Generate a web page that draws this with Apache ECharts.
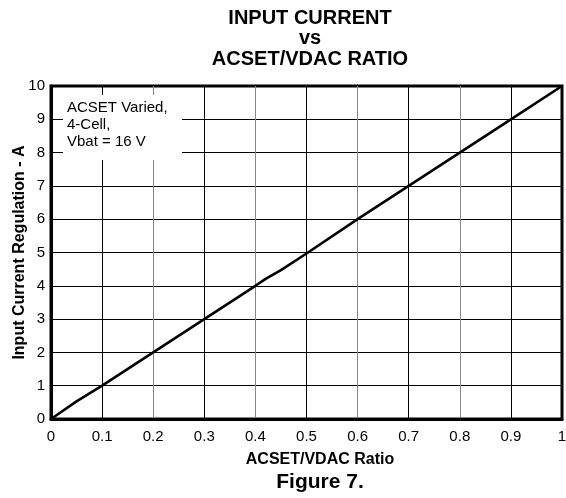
<!DOCTYPE html>
<html>
<head>
<meta charset="utf-8">
<script src="https://cdn.jsdelivr.net/npm/echarts@6/dist/echarts.min.js"></script>
<style>
html,body{margin:0;padding:0;background:#fff;}
#chart{width:566px;height:498px;}
</style>
</head>
<body>
<div id="chart"></div>
<script>
// Data
const ratio   = [0, 0.05, 0.1, 0.2, 0.3, 0.4, 0.42, 0.45, 0.5, 0.6, 0.7, 0.8, 0.9, 1.0];
const current = [0, 0.53, 1.0, 2.0, 3.0, 4.0, 4.21, 4.47, 4.97, 6.0, 7.0, 8.0, 9.0, 10.0];
const titleLines = ['INPUT CURRENT', 'vs', 'ACSET/VDAC RATIO'];
const noteLines = ['ACSET Varied,', '4-Cell,', 'Vbat = 16 V'];
const xName = 'ACSET/VDAC Ratio';
const yName = 'Input Current Regulation - A';
const figLabel = 'Figure 7.';

const FONT = '"Liberation Sans", Arial, Helvetica, sans-serif';
const chart = echarts.init(document.getElementById('chart'), null, {renderer: 'canvas'});
const xGridColors = ['#000','#000','#888','#000','#888','#000','#888','#000','#888','#000','#000'];

chart.setOption({
  animation: false,
  backgroundColor: '#fff',
  grid: {left: 51, right: 4, top: 86, bottom: 79, show: true, borderColor: '#000', borderWidth: 3,
    backgroundColor: 'transparent', containLabel: false, outerBoundsMode: 'none'},
  xAxis: {
    type: 'value', min: 0, max: 1, interval: 0.1,
    axisLine: {show: true, onZero: false, lineStyle: {color: '#000', width: 3}},
    axisTick: {show: false},
    splitLine: {show: true, lineStyle: {color: xGridColors, width: 1}},
    axisLabel: {color: '#000', fontSize: 15, fontFamily: FONT, margin: 10,
      formatter: v => (Math.round(v * 10) / 10).toString()},
    name: xName, nameLocation: 'middle', nameGap: 33, nameMoveOverlap: false,
    nameTextStyle: {color: '#000', fontSize: 16, fontWeight: 'bold', fontFamily: FONT, padding: [0, 0, 0, 27]}
  },
  yAxis: {
    type: 'value', min: 0, max: 10, interval: 1,
    axisLine: {show: true, onZero: false, lineStyle: {color: '#000', width: 3}},
    axisTick: {show: false},
    splitLine: {show: true, lineStyle: {color: '#000', width: 1}},
    axisLabel: {color: '#000', fontSize: 15, fontFamily: FONT, margin: 6},
    name: yName, nameLocation: 'middle', nameGap: 23, nameMoveOverlap: false,
    nameTextStyle: {color: '#000', fontSize: 16, fontWeight: 'bold', fontFamily: FONT}
  },
  series: [{
    type: 'line',
    data: ratio.map((r, i) => [r, current[i]]),
    showSymbol: false,
    lineStyle: {color: '#000', width: 2.6},
    z: 5
  }],
  graphic: [
    {type: 'text', z: 10,
      style: {text: titleLines.join('\n'), x: 310, y: 8, textAlign: 'center', textVerticalAlign: 'top',
        font: 'bold 20px ' + FONT, lineHeight: 20.5, fill: '#000'}},
    {type: 'rect', z: 8, shape: {x: 63, y: 95, width: 119, height: 65}, style: {fill: '#fff'}},
    {type: 'text', z: 10,
      style: {text: noteLines.join('\n'), x: 67, y: 99, textVerticalAlign: 'top',
        font: '15px ' + FONT, lineHeight: 17, fill: '#000'}},
    {type: 'text', z: 10,
      style: {text: figLabel, x: 320, y: 472, textAlign: 'center', textVerticalAlign: 'top',
        font: 'bold 21px ' + FONT, fill: '#000'}}
  ]
});
</script>
</body>
</html>
